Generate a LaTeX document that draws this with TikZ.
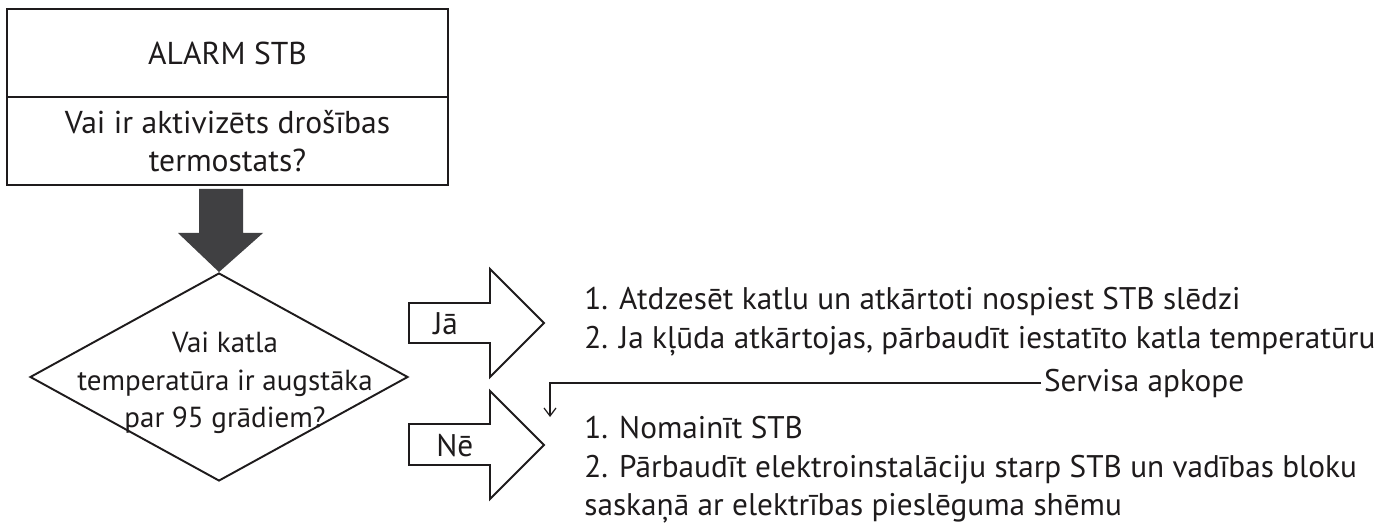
\documentclass[tikz,border=0pt]{standalone}
\usepackage{fontspec}
\setmainfont{PT Sans}
\usepackage{xcolor}
\definecolor{inkgray}{RGB}{30,27,28}
\definecolor{blockgray}{RGB}{64,64,66}
\usetikzlibrary{arrows.meta,shapes.geometric}

\begin{document}
\begin{tikzpicture}[x=0.02cm,y=-0.02cm,
hbox/.style={draw=inkgray,line width=1.3pt,minimum width=8.82cm,minimum height=1.76cm,align=center,inner sep=0pt,text=inkgray,font=\fontsize{18}{21.5}\selectfont},
decision/.style={diamond,draw=inkgray,line width=1.1pt,minimum width=7.56cm,minimum height=4.16cm,inner sep=0pt},
dtext/.style={align=center,inner sep=0pt,text=inkgray,font=\fontsize{16.5}{21.3}\selectfont},
blockarrow/.style={draw=inkgray,line width=1.1pt,fill=white},
bigarrow/.style={fill=blockgray},
answer/.style={anchor=west,inner sep=0pt,text=inkgray,font=\fontsize{17.8}{22}\selectfont},
steps/.style={anchor=west,align=left,inner sep=0pt,text=inkgray,font=\fontsize{17.8}{22}\selectfont},
svc/.style={-{Straight Barb[length=1.6mm,width=2.4mm]},draw=inkgray,line width=0.7pt}]
\useasboundingbox (0,0) rectangle (1389,523);
\node[hbox] (alarm) at (227.5,53) {ALARM STB};
\node[hbox] (question) at (227.5,141) {Vai ir aktivizēts drošības\\termostats?};
\node[decision] (temp) at (219,377) {};
\node[dtext] (temptxt) at (225,383) {Vai katla\\temperatūra ir augstāka\\par 95 grādiem?};
% dark arrow down to the decision
\fill[bigarrow] (199,189) -- (243,189) -- (243,233) -- (263,233) -- (temp.north) -- (178,233) -- (199,233) -- cycle;
% yes / no block arrows
\draw[blockarrow] (409,303) -- (490,303) -- (490,269) -- (544,323) -- (490,377) -- (490,343) -- (409,343) -- cycle;
\draw[blockarrow] (409,424) -- (490,424) -- (490,391) -- (544,445) -- (490,499) -- (490,465) -- (409,465) -- cycle;
\node[answer] (yes) at (433,324) {Jā};
\node[answer] (no) at (436,446) {Nē};
\node[steps] (yessteps) at (584,322) {1. Atdzesēt katlu un atkārtoti nospiest STB slēdzi\\2. Ja kļūda atkārtojas, pārbaudīt iestatīto katla temperatūru};
\node[steps] (nosteps) at (584,470) {1. Nomainīt STB\\2. Pārbaudīt elektroinstalāciju starp STB un vadības bloku\\saskaņā ar elektrības pieslēguma shēmu};
\node[answer,inner sep=1.5pt] (service) at (1041,383) {Servisa apkope};
\coordinate (svcend) at (550,417);
\draw[svc] (service.west) -| (svcend);
\end{tikzpicture}
\end{document}
